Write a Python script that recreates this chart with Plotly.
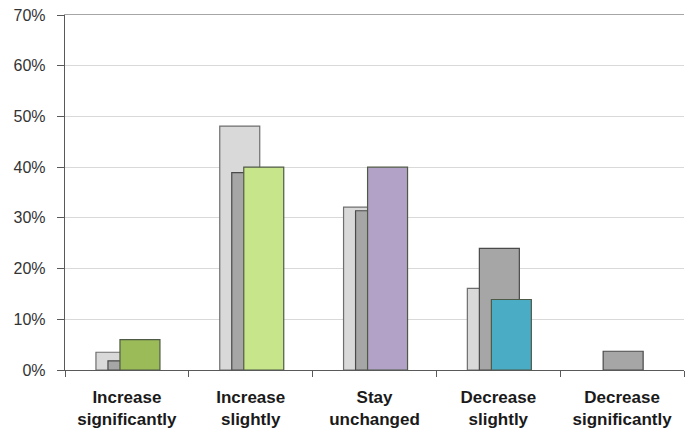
import plotly.graph_objects as go

categories = ["Increase<br>significantly", "Increase<br>slightly", "Stay<br>unchanged",
              "Decrease<br>slightly", "Decrease<br>significantly"]
series_a = [0.035, 0.481, 0.321, 0.161, None]   # light gray (back)
series_b = [0.018, 0.389, 0.314, 0.240, 0.037]  # medium gray (middle)
series_c = [0.060, 0.400, 0.400, 0.139, None]   # coloured (front)
colors_c = ["#9BBB59", "#C7E58B", "#B3A2C7", "#4BACC6", "#9BBB59"]

bar_w = 0.323
fig = go.Figure()
fig.add_trace(go.Bar(x=categories, y=series_a, width=bar_w, offset=-0.25,
                     marker=dict(color="#D9D9D9", line=dict(color="#6E6E6E", width=1.2))))
fig.add_trace(go.Bar(x=categories, y=series_b, width=bar_w, offset=-0.153,
                     marker=dict(color="#A6A6A6", line=dict(color="#4A4A4A", width=1.2))))
fig.add_trace(go.Bar(x=categories, y=series_c, width=bar_w, offset=-0.056,
                     marker=dict(color=colors_c, line=dict(color="#4F5A46", width=1.2))))
# invisible trace to activate the top axis line
fig.add_trace(go.Bar(x=categories, y=[None] * 5, xaxis="x2", showlegend=False,
                     hoverinfo="skip"))

fig.update_layout(
    width=694, height=436,
    margin=dict(l=65, r=10, t=15, b=66),
    paper_bgcolor="white", plot_bgcolor="white",
    barmode="overlay", showlegend=False,
    font=dict(family="Liberation Sans, Arial, sans-serif", color="#262626"),
    xaxis=dict(
        type="category", range=[-0.5, 4.5], automargin=False,
        showline=True, linecolor="#595959", linewidth=1.2,
        ticks="outside", tickson="boundaries", ticklen=6, tickcolor="#595959",
        tickfont=dict(size=17, color="#1a1a1a", family="Liberation Sans, Arial, sans-serif",
                      weight="bold"),
        ticklabelstandoff=11,
        showgrid=False,
    ),
    xaxis2=dict(overlaying="x", side="top", showline=True, linecolor="#A6A6A6",
                linewidth=1.2, showticklabels=False, ticks="", showgrid=False,
                matches="x", automargin=False),
    yaxis=dict(
        range=[0, 0.7], dtick=0.1, tickformat=".0%", automargin=False,
        showline=True, linecolor="#595959", linewidth=1.2,
        ticks="outside", ticklen=7, tickcolor="#595959",
        ticklabelstandoff=8,
        gridcolor="#D9D9D9", gridwidth=1, zeroline=False,
        tickfont=dict(size=16, color="#333333"),
    ),
)

# remove the browser's default 8px body margin so the figure fills the window
fig.write_html("out.html",
               config={"displayModeBar": False, "staticPlot": True},
               post_script="document.body.style.margin='0';document.body.style.overflow='hidden';")
